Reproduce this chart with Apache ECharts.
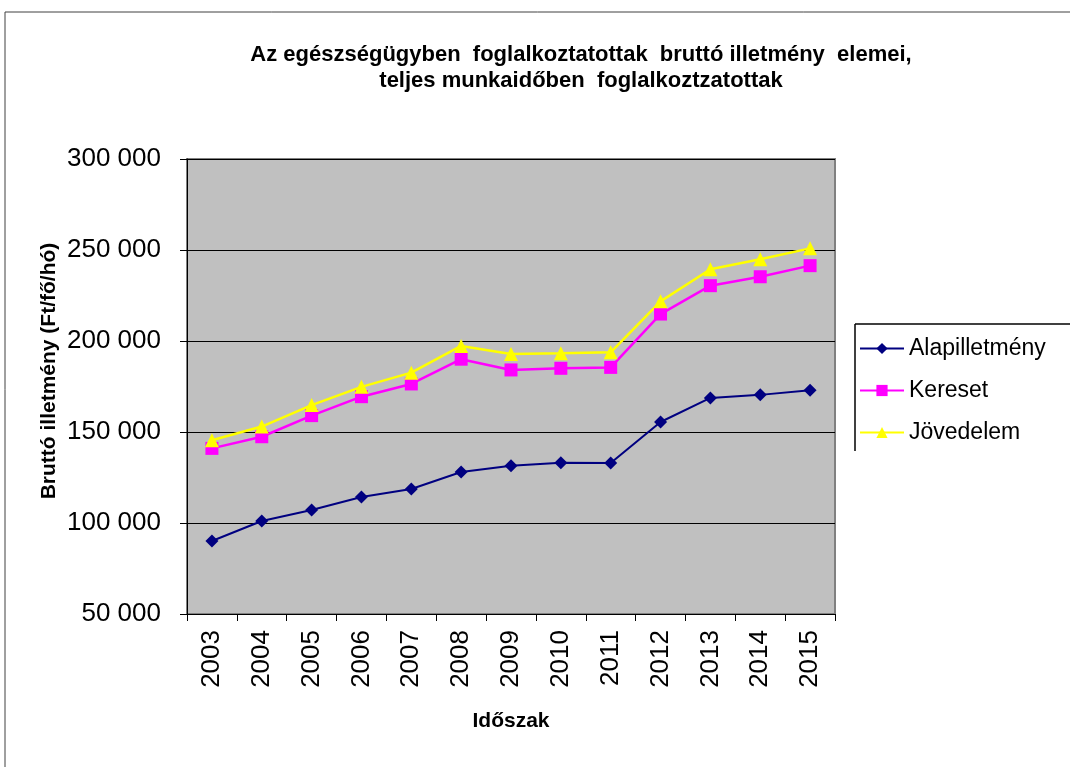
<!DOCTYPE html>
<html>
<head>
<meta charset="utf-8">
<script src="https://cdn.jsdelivr.net/npm/echarts@6/dist/echarts.min.js"></script>
<style>
html,body{margin:0;padding:0;background:#fff;}
#chart{width:1070px;height:767px;}
</style>
</head>
<body>
<div id="chart"></div>
<script>
const years = ['2003','2004','2005','2006','2007','2008','2009','2010','2011','2012','2013','2014','2015'];
const alapilletmeny = [90100, 101100, 107100, 114300, 118700, 128000, 131500, 133100, 133000, 155500, 168700, 170400, 173000];
const kereset = [141000, 147400, 159000, 169400, 176400, 190000, 184100, 185000, 185500, 214800, 230400, 235300, 241400];
const jovedelem = [145500, 153000, 164800, 174800, 182600, 197300, 192900, 193300, 193800, 221800, 239400, 244900, 250900];
const seriesNames = ['Alapilletmény', 'Kereset', 'Jövedelem'];
const titleLines = ['Az egészségügyben  foglalkoztatottak  bruttó illetmény  elemei,', 'teljes munkaidőben  foglalkoztzatottak'];
const yAxisName = 'Bruttó illetmény (Ft/fő/hó)';
const xAxisName = 'Időszak';

const font = '"Liberation Sans", Arial, sans-serif';
const chart = echarts.init(document.getElementById('chart'), null, {renderer: 'canvas'});

function fmt(v) {
  return String(v).replace(/\B(?=(\d{3})+(?!\d))/g, ' ');
}

chart.setOption({
  animation: false,
  backgroundColor: '#ffffff',
  title: {
    text: titleLines.join('\n'),
    left: 576,
    textAlign: 'center',
    top: 37,
    textStyle: {fontFamily: font, fontSize: 22, fontWeight: 'bold', color: '#000', lineHeight: 26}
  },
  grid: {
    left: 187, right: 235, top: 159, bottom: 153,
    show: true, backgroundColor: '#C0C0C0', borderColor: '#808080', borderWidth: 2
  },
  legend: {
    orient: 'vertical',
    left: 854,
    top: 331,
    itemWidth: 44,
    itemHeight: 14,
    itemGap: 17,
    data: seriesNames,
    textStyle: {fontFamily: font, fontSize: 23, color: '#000', lineHeight: 25}
  },
  xAxis: {
    type: 'category',
    data: years,
    boundaryGap: true,
    name: xAxisName,
    nameLocation: 'middle',
    nameGap: 97,
    nameTextStyle: {fontFamily: font, fontSize: 21, fontWeight: 'bold', color: '#000'},
    axisLine: {lineStyle: {color: '#000', width: 1}},
    axisTick: {show: true, length: 7, lineStyle: {color: '#000'}},
    axisLabel: {rotate: 90, margin: 16, fontFamily: font, fontSize: 26, color: '#000'},
    splitLine: {show: false}
  },
  yAxis: {
    type: 'value',
    min: 50000,
    max: 300000,
    interval: 50000,
    axisLine: {show: true, lineStyle: {color: '#000', width: 1}},
    axisTick: {show: true, length: 7, lineStyle: {color: '#000'}},
    axisLabel: {margin: 26, fontFamily: font, fontSize: 26, color: '#000', formatter: fmt},
    splitLine: {show: true, lineStyle: {color: '#000', width: 1}}
  },
  graphic: [
    {type: 'line', shape: {x1: 5, y1: 12, x2: 1070, y2: 12}, style: {stroke: '#404040', lineWidth: 1}},
    {type: 'line', shape: {x1: 5, y1: 12, x2: 5, y2: 767}, style: {stroke: '#404040', lineWidth: 1}},
    {type: 'line', shape: {x1: 855, y1: 324, x2: 1070, y2: 324}, style: {stroke: '#000', lineWidth: 1.5}},
    {type: 'line', shape: {x1: 855, y1: 324, x2: 855, y2: 451}, style: {stroke: '#000', lineWidth: 1.5}},
    {
      type: 'text', x: 49, y: 371, rotation: Math.PI / 2,
      style: {text: yAxisName, fontFamily: font, fontSize: 21, fontWeight: 'bold', fill: '#000', align: 'center', verticalAlign: 'middle'}
    }
  ],
  series: [
    {
      name: seriesNames[0], type: 'line', data: alapilletmeny,
      symbol: 'diamond', symbolSize: 13,
      itemStyle: {color: '#000080'}, lineStyle: {color: '#000080', width: 2}
    },
    {
      name: seriesNames[1], type: 'line', data: kereset,
      symbol: 'rect', symbolSize: 13,
      itemStyle: {color: '#FF00FF'}, lineStyle: {color: '#FF00FF', width: 2.5}
    },
    {
      name: seriesNames[2], type: 'line', data: jovedelem,
      symbol: 'triangle', symbolSize: 14,
      itemStyle: {color: '#FFFF00'}, lineStyle: {color: '#FFFF00', width: 2.5}
    }
  ]
});
</script>
</body>
</html>
